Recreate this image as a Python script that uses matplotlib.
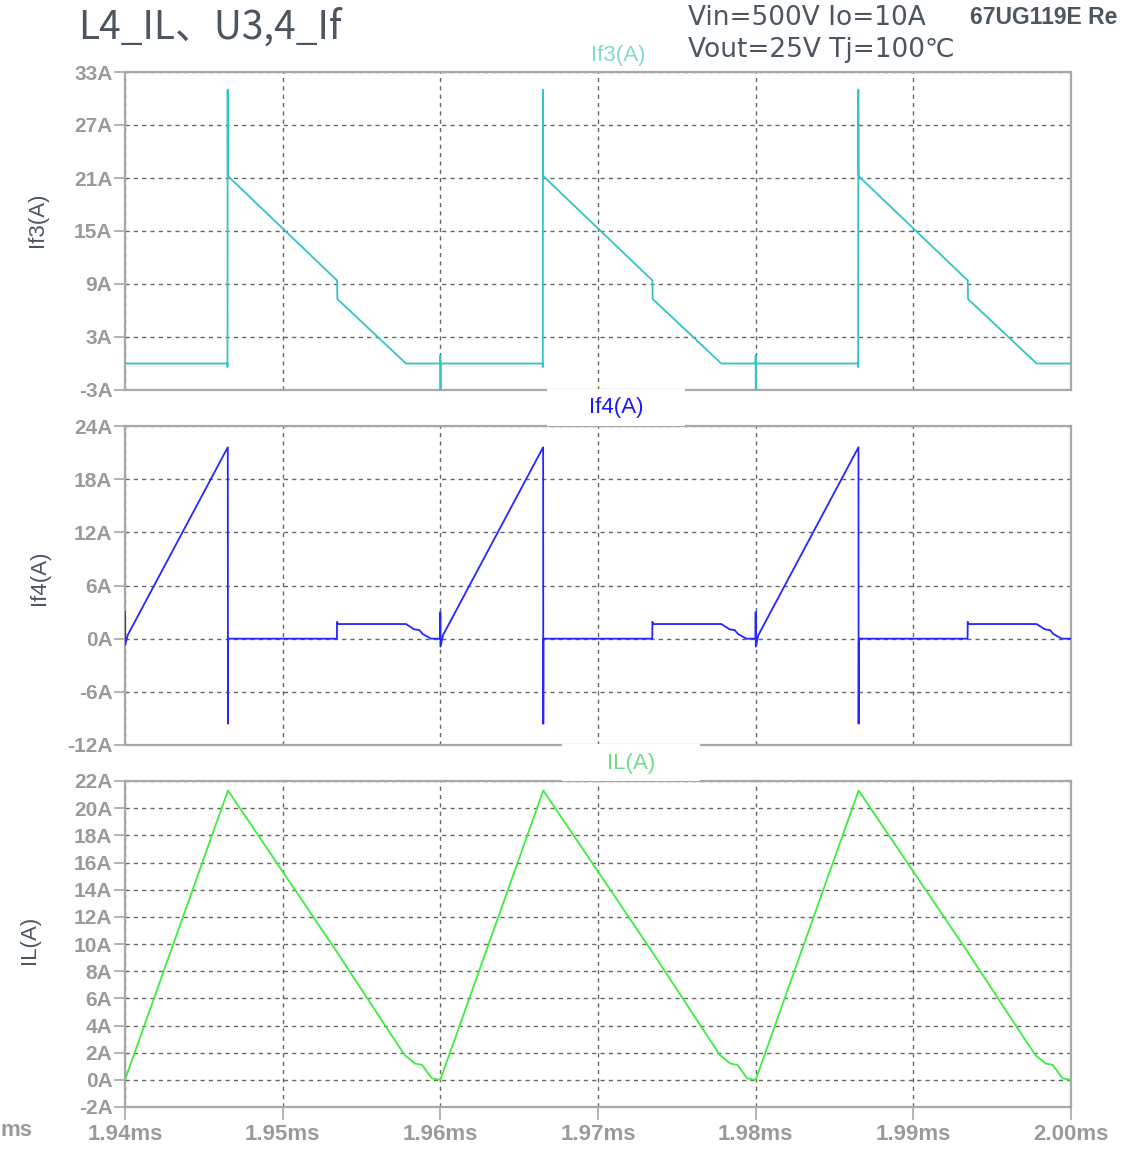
import matplotlib
matplotlib.use("Agg")
import matplotlib.pyplot as plt
from matplotlib.patches import Rectangle
from matplotlib.ticker import FixedLocator, FuncFormatter

# ---- data (time in ms, current in A) ----
if3_t = [1.94000, 1.94649, 1.94650, 1.94651, 1.94652, 1.94654, 1.95345, 1.95347, 1.95782,
         1.95999, 1.96000, 1.96001, 1.96002,
         1.96649, 1.96650, 1.96651, 1.96652, 1.96654, 1.97345, 1.97347, 1.97782,
         1.97999, 1.98000, 1.98001, 1.98002,
         1.98649, 1.98650, 1.98651, 1.98652, 1.98653, 1.98654, 1.99345, 1.99347, 1.99782, 2.00000]
if3_v = [0, 0, -0.4, 31.0, 21.5, 21.2, 9.4, 7.3, 0,
         0, 0.9, -3.5, 0,
         0, -0.4, 31.0, 21.5, 21.2, 9.4, 7.3, 0,
         0, 0.9, -3.5, 0,
         0, -0.4, 31.0, 25.5, 21.5, 21.2, 9.4, 7.3, 0, 0]

if4_t = [1.94000, 1.94001, 1.94017, 1.94652, 1.94653, 1.94654, 1.95344, 1.95345, 1.95350,
         1.95782, 1.95835, 1.95867, 1.95888, 1.95941, 1.95999,
         1.96000, 1.96001, 1.96017, 1.96652, 1.96653, 1.96654, 1.97344, 1.97345, 1.97350,
         1.97782, 1.97835, 1.97867, 1.97888, 1.97941, 1.97999,
         1.98000, 1.98001, 1.98017, 1.98652, 1.98653, 1.98654, 1.99344, 1.99345, 1.99350,
         1.99782, 1.99835, 1.99867, 1.99888, 1.99941, 2.00000]
if4_v = [3.0, -0.7, 0.4, 21.6, -9.6, 0, 0, 1.9, 1.65,
         1.65, 1.05, 0.97, 0.53, 0, 0,
         3.0, -0.9, 0.4, 21.6, -9.6, 0, 0, 1.9, 1.65,
         1.65, 1.05, 0.97, 0.53, 0, 0,
         3.0, -0.9, 0.4, 21.6, -9.6, 0, 0, 1.9, 1.65,
         1.65, 1.05, 0.97, 0.53, 0, 0]

il_t = [1.94000, 1.94653, 1.95345, 1.95712, 1.95776, 1.95839, 1.95884, 1.95947,
        1.96000, 1.96653, 1.97345, 1.97712, 1.97776, 1.97839, 1.97884, 1.97947,
        1.98000, 1.98653, 1.99345, 1.99712, 1.99776, 1.99839, 1.99884, 1.99947, 2.00000]
il_v = [0, 21.3, 9.4, 2.9, 1.8, 1.2, 1.1, 0.1,
        0, 21.3, 9.4, 2.9, 1.8, 1.2, 1.1, 0.1,
        0, 21.3, 9.4, 2.9, 1.8, 1.2, 1.1, 0.1, 0]

x_ticks = [1.94, 1.95, 1.96, 1.97, 1.98, 1.99, 2.00]
if3_ticks = [-3, 3, 9, 15, 21, 27, 33]
if4_ticks = [-12, -6, 0, 6, 12, 18, 24]
il_ticks = list(range(-2, 23, 2))

W, H = 1132, 1149
fig = plt.figure(figsize=(W / 100, H / 100), dpi=100)

tick_font = ['Liberation Sans Narrow', 'Liberation Sans', 'DejaVu Sans']
cjk = ['Noto Sans CJK JP', 'DejaVu Sans']
wide = ['DejaVu Sans', 'Noto Sans CJK JP']
grey_txt = '#4b5661'


def fx(px):
    return px / W


def fy(py):
    return 1 - py / H


def make_ax(top, bottom, ticks, t, v, color, bottom_axis=False):
    ax = fig.add_axes([fx(125), fy(bottom), fx(1071) - fx(125), fy(top) - fy(bottom)])
    ax.plot(t, v, color=color, lw=1.3, zorder=3)
    ax.set_xlim(1.94, 2.00)
    ax.set_ylim(ticks[0], ticks[-1])
    ax.yaxis.set_major_locator(FixedLocator(ticks))
    ax.xaxis.set_major_locator(FixedLocator(x_ticks))
    ax.yaxis.set_major_formatter(FuncFormatter(lambda y, p: '%dA' % y))
    ax.xaxis.set_major_formatter(FuncFormatter(lambda x, p: '%.2fms' % x))
    ax.grid(True, color='#666666', ls=(0, (3, 3)), lw=1)
    for s in ax.spines.values():
        s.set_color('#a8a8a8')
        s.set_linewidth(1.6)
    ax.tick_params(axis='y', length=8, width=1.2, color='#a8a8a8', pad=1,
                   labelsize=15, labelcolor='#9a9a9a')
    if bottom_axis:
        ax.tick_params(axis='x', length=9, width=1.2, color='#a8a8a8', pad=3,
                       labelsize=16, labelcolor='#9a9a9a')
    else:
        ax.tick_params(axis='x', length=0, labelbottom=False)
    for lab in ax.get_yticklabels() + ax.get_xticklabels():
        lab.set_family(tick_font)
        lab.set_fontweight('bold')
    return ax


ax1 = make_ax(72, 390, if3_ticks, if3_t, if3_v, '#33c4c4')
ax2 = make_ax(426, 745, if4_ticks, if4_t, if4_v, '#2626ff')
ax3 = make_ax(781, 1107, il_ticks, il_t, il_v, '#3ded3d', bottom_axis=True)

# white label boxes between the panels
fig.add_artist(Rectangle((fx(547), fy(426)), fx(685) - fx(547), fy(389) - fy(426),
                         transform=fig.transFigure, facecolor='white', edgecolor='none', zorder=5))
fig.add_artist(Rectangle((fx(562), fy(781)), fx(700) - fx(562), fy(744) - fy(781),
                         transform=fig.transFigure, facecolor='white', edgecolor='none', zorder=5))

fig.text(fx(618), fy(55), 'If3(A)', color='#80d8d0', fontsize=16, ha='center', va='center',
         family=['Liberation Sans', 'DejaVu Sans'], zorder=6)
fig.text(fx(616), fy(407), 'If4(A)', color='#1a1aff', fontsize=16, ha='center', va='center',
         family=['Liberation Sans', 'DejaVu Sans'], zorder=6)
fig.text(fx(631), fy(763), 'IL(A)', color='#6ede8a', fontsize=16, ha='center', va='center',
         family=['Liberation Sans', 'DejaVu Sans'], zorder=6)

# y axis titles
for xp, yp, s in [(37, 220, 'If3(A)'), (40, 578, 'If4(A)'), (30, 940, 'IL(A)')]:
    fig.text(fx(xp), fy(yp), s, rotation=90, color=grey_txt, fontsize=16,
             ha='center', va='center', family=['Liberation Sans', 'DejaVu Sans'])

fig.text(fx(0), fy(1130), 'ms', ha='left', va='center', fontsize=16, fontweight='bold',
         color='#9a9a9a', family=tick_font)

# header texts
fig.text(fx(78), fy(28), 'L4_IL、U3,4_If', fontsize=28, color=grey_txt, ha='left', va='center',
         family=cjk)
fig.text(fx(688), fy(18), 'Vin=500V Io=10A', fontsize=19, color=grey_txt, ha='left', va='center',
         family=wide)
fig.text(fx(688), fy(50), 'Vout=25V Tj=100℃', fontsize=19, color=grey_txt, ha='left', va='center',
         family=wide)
fig.text(fx(970), fy(18), '67UG119E Re', fontsize=16.5, fontweight='bold', color=grey_txt,
         ha='left', va='center', family=['Liberation Sans', 'DejaVu Sans'])

fig.savefig('out.png', dpi=100)
